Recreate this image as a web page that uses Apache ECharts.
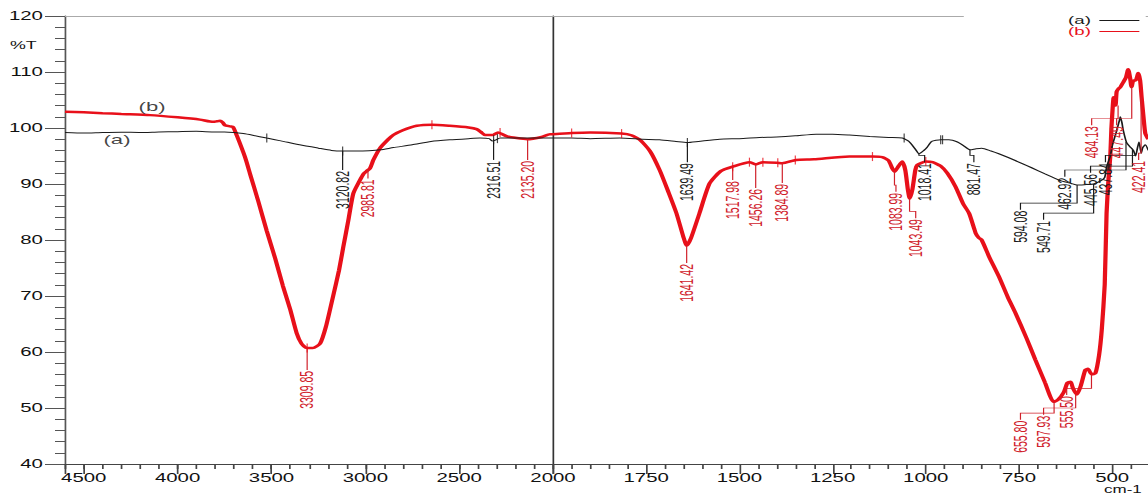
<!DOCTYPE html>
<html>
<head>
<meta charset="utf-8">
<script src="https://cdn.jsdelivr.net/npm/echarts@6/dist/echarts.min.js"></script>
<style>
  html, body { margin: 0; padding: 0; background: #fff; }
  #wrap { width: 1148px; height: 494px; overflow: hidden; position: relative; background: #fff; }
  #chart { position: absolute; left: 0; top: 0; height: 494px; transform-origin: 0 0; }
</style>
</head>
<body>
<div id="wrap"><div id="chart"></div></div>
<script>
// ---------------- DATA ----------------
// x-axis tick labels (cm-1): left panel 4500..2000 step 500, right panel 1750..500 step 250
const leftTicks = [4500, 4000, 3500, 3000, 2500, 2000];
const rightTicks = [1750, 1500, 1250, 1000, 750, 500];

// Spectrum (a): [wavenumber cm-1, %T]
const curveA = [
  [4600, 99.2], [4500, 99.1], [4400, 99.2], [4300, 99.25], [4200, 99.2], [4100, 99.3], [4000, 99.35],
  [3900, 99.4], [3800, 99.3], [3750, 99.3], [3700, 99.2], [3650, 99.0], [3600, 98.7], [3525, 98.2],
  [3450, 97.7], [3350, 97.0], [3250, 96.4], [3180, 96.0], [3120, 95.9], [3050, 95.9], [2980, 95.95],
  [2920, 96.1], [2850, 96.5], [2750, 97.0], [2650, 97.6], [2550, 97.9], [2450, 98.1], [2389, 98.2],
  [2340, 98.1], [2325, 97.7], [2310, 97.8], [2282, 98.2], [2200, 98.2], [2100, 98.2], [2000, 98.2],
  [1950, 98.2], [1900, 98.1], [1821, 98.2], [1760, 98.0], [1714, 97.9], [1670, 97.6], [1640, 97.4],
  [1610, 97.6], [1553, 98.0], [1500, 98.1], [1446, 98.3], [1400, 98.4], [1350, 98.6], [1294, 98.9],
  [1250, 98.9], [1205, 98.75], [1150, 98.5], [1100, 98.3], [1063, 98.2], [1045, 97.6], [1030, 96.4],
  [1018, 95.4], [1005, 96.0], [997, 96.5], [984, 97.6], [960, 97.9], [938, 97.9], [915, 97.5],
  [900, 96.9], [881, 96.1], [865, 96.3], [850, 96.4], [825, 95.9], [804, 95.4], [760, 94.2],
  [716, 92.9], [680, 91.8], [643, 90.7], [610, 90.1], [594, 89.8], [570, 89.9], [550, 90.0],
  [530, 90.6], [520, 91.2], [515, 93.0], [510, 94.0], [505, 95.0], [499, 97.0], [488, 99.5],
  [480, 101.5], [478, 102.0], [474, 101.0], [470, 99.5], [462, 97.5], [457, 97.0], [450, 96.5],
  [443, 96.0], [437, 95.0], [432, 96.5], [428, 97.5], [422, 95.5], [418, 96.5], [411, 97.0], [403, 96.0]
];

// Spectrum (b): [wavenumber cm-1, %T]
const curveB = [
  [4600, 102.9], [4500, 102.8], [4400, 102.65], [4300, 102.5], [4147, 102.3], [4000, 101.9],
  [3881, 101.5], [3811, 101.1], [3790, 101.2], [3774, 101.3], [3760, 101.0], [3748, 100.5],
  [3720, 100.3], [3705, 100.2], [3684, 98.6], [3641, 94.8], [3614, 91.8], [3570, 86.9], [3525, 81.6],
  [3480, 76.7], [3439, 71.8], [3400, 67.6], [3366, 63.4], [3340, 61.5], [3311, 60.7], [3280, 60.7],
  [3241, 61.5], [3210, 64.5], [3172, 69.9], [3140, 74.6], [3117, 78.8], [3090, 83.6], [3064, 88.3],
  [3030, 90.6], [3010, 91.8], [2993, 92.3], [2975, 92.8], [2957, 94.3], [2922, 96.4], [2880, 97.9],
  [2851, 98.75], [2800, 99.6], [2726, 100.4], [2645, 100.6], [2550, 100.4], [2450, 100.1],
  [2407, 99.8], [2385, 99.3], [2362, 98.75], [2320, 98.75], [2293, 99.2], [2245, 98.5], [2193, 98.2],
  [2138, 98.0], [2060, 98.4], [2016, 98.9], [2000, 98.9],
  [1950, 99.1], [1900, 99.2], [1816, 99.0], [1790, 98.7], [1767, 97.9], [1740, 95.9], [1714, 92.5],
  [1690, 88.5], [1669, 84.8], [1650, 80.5], [1641, 79.0], [1630, 80.3], [1607, 84.8], [1580, 90.1],
  [1550, 92.3], [1518, 93.1], [1473, 93.9], [1456, 93.5], [1437, 93.9], [1400, 93.8], [1385, 93.7],
  [1348, 94.3], [1300, 94.4], [1205, 94.9], [1143, 94.9], [1117, 94.8], [1100, 94.2], [1090, 92.8],
  [1084, 92.2], [1075, 93.0], [1063, 94.0], [1055, 92.5], [1048, 89.0], [1043, 87.4], [1036, 89.0],
  [1028, 92.5], [1023, 93.4], [1000, 94.0], [982, 93.9], [960, 93.2], [942, 91.9], [920, 89.5],
  [900, 86.5], [884, 84.8], [870, 82.0], [866, 81.2], [858, 80.4], [850, 80.0], [830, 77.0],
  [804, 73.5], [780, 69.8], [759, 66.9], [730, 62.5], [706, 58.6], [680, 54.5], [657, 51.1],
  [645, 51.5], [630, 52.8], [620, 54.5], [612, 54.7], [605, 53.5], [595, 52.4], [585, 53.8],
  [572, 56.8], [565, 57.0], [555, 56.0], [545, 56.2], [535, 59.5], [528, 63.9], [520, 72.0],
  [515, 84.8], [510, 90.7], [505, 95.0], [502, 100.0], [499, 103.2], [496, 105.5], [491, 104.0],
  [488, 106.5], [483, 107.0], [478, 107.3], [470, 108.2], [463, 109.0], [457, 110.5], [452, 109.0],
  [448, 107.3], [443, 108.5], [437, 108.5], [430, 109.8], [425, 108.5], [421, 105.5], [416, 102.0],
  [411, 99.0], [403, 98.0]
];

// Peak annotations: [peak cm-1, %T at peak, label cm-1, %T at label top]
const peaksA = [
  [3120.82, 95.9, 3120.82, 92.5], [2316.51, 98.0, 2316.51, 94.3], [1639.49, 97.4, 1639.49, 93.9],
  [1018.41, 95.4, 1003, 93.9], [881.47, 96.1, 871, 93.9], [594.08, 89.8, 746, 85.4],
  [549.71, 90.0, 684, 83.6], [462.92, 97.5, 627, 91.3], [445.56, 96.3, 558, 92.0], [437.84, 95.0, 518, 93.9]
];
const peaksB = [
  [3309.85, 60.7, 3309.85, 56.8], [2985.81, 92.6, 2985.81, 91.0], [2135.20, 98.0, 2135.20, 94.3],
  [1641.42, 79.0, 1641.42, 75.9], [1517.98, 93.1, 1517.98, 90.7], [1456.26, 93.5, 1456.26, 89.3],
  [1384.89, 93.7, 1384.89, 90.2], [1083.99, 92.2, 1080, 88.6], [1043.49, 87.4, 1027, 83.9],
  [655.80, 51.1, 746, 47.9], [597.93, 52.4, 684, 48.8], [555.50, 56.0, 622, 52.3],
  [484.13, 104.0, 555, 100.5], [447.49, 107.3, 488, 100.5], [422.41, 105.5, 429, 94.3]
];

// Cursor tick marks on the curves: [cm-1, %T]
const marksA = [[3525, 98.2], [3120.82, 95.9], [2316.51, 97.9], [2296, 98.1], [1639.49, 97.4], [1058, 98.2], [960, 97.9], [955, 97.9]];
const marksB = [[2645, 100.6], [2282, 99.2], [3309.85, 60.7], [1950, 99.1], [1816, 99.0], [1518, 93.1], [1473, 93.9], [1437, 93.9], [1397, 93.8], [1350, 94.3], [1143, 94.9], [1000, 94.0]];

// Curve tags: [text, cm-1, %T]
const curveTags = [['(b)', 4136, 103.8], ['(a)', 4323, 97.9]];

// ---------------- LAYOUT ----------------
const S = 1.7;                               // horizontal stretch of the original figure
const PX_L = 488 / 2600;                     // screen px per cm-1, left panel
const PX_R = 0.37375;                        // screen px per cm-1, right panel
const RIGHT_W = 1750 * PX_R;                 // right panel spans 2000..250 (clipped at the window edge)
const W = (553 + RIGHT_W) / S + 2;
const chartEl = document.getElementById('chart');
chartEl.style.width = W + 'px';
chartEl.style.transform = 'scaleX(' + S + ')';

const FONT = '"Liberation Sans", Arial, sans-serif';
const RED = '#e8101a';
const RED_TXT = '#d0202a';
const BLACK = '#1a1a1a';

const chart = echarts.init(chartEl, null, { renderer: 'svg', width: W, height: 494 });

const left = p => p[0] >= 2000;
const right = p => p[0] <= 2000;

function peakRenderer(color) {
  return function (params, api) {
    const pw = api.value(0), tc = api.value(1), lw = api.value(2), tt = api.value(3);
    const p0 = api.coord([pw, tc]);
    const pt = api.coord([lw, tt]);
    let pts;
    if (lw === pw) {
      pts = [p0, pt];
    } else {
      const j1 = api.coord([pw, tt + 1.2]);
      const j2 = api.coord([lw, tt + 1.2]);
      pts = [p0, j1, j2, pt];
    }
    return {
      type: 'group',
      children: [
        { type: 'polyline', shape: { points: pts }, style: { stroke: color, lineWidth: 0.7, fill: null } },
        {
          type: 'text', x: pt[0], y: pt[1] + 1, rotation: Math.PI / 2,
          style: { text: pw.toFixed(2), fill: color, fontSize: 10.5, fontFamily: FONT, align: 'right', verticalAlign: 'middle' }
        }
      ]
    };
  };
}

function peakSeries(arr, filt, grid, color) {
  return {
    type: 'custom', xAxisIndex: grid === 0 ? 0 : 3, yAxisIndex: grid,
    data: arr.filter(filt), encode: { x: [0, 2], y: [1, 3] },
    renderItem: peakRenderer(color), clip: false, silent: true, z: 6
  };
}

function markSeries(arr, filt, grid, color) {
  return {
    type: 'scatter', xAxisIndex: grid === 0 ? 0 : 3, yAxisIndex: grid,
    data: arr.filter(filt), symbol: 'rect', symbolSize: [0.7, 9],
    itemStyle: { color: color }, silent: true, z: 7
  };
}

const lineCommon = { type: 'line', symbol: 'none', showSymbol: false, smooth: 0.2, silent: true, animation: false };

const option = {
  animation: false,
  backgroundColor: '#fff',
  textStyle: { fontFamily: FONT },
  grid: [
    { left: 65 / S, top: 16, width: 2600 * PX_L / S, height: 448 },
    { left: 553 / S, top: 16, width: RIGHT_W / S, height: 448 }
  ],
  legend: {
    orient: 'vertical', left: 1068 / S, top: 15, align: 'right', padding: 0,
    icon: 'rect', itemWidth: 40 / S, itemHeight: 1, itemGap: 0,
    textStyle: { fontSize: 11, lineHeight: 10.5, fontFamily: FONT },
    data: [
      { name: '(a)', textStyle: { color: BLACK } },
      { name: '(b)', textStyle: { color: RED } }
    ]
  },
  xAxis: [
    {
      gridIndex: 0, type: 'value', min: 2000, max: 4600, interval: 500, inverse: true, position: 'bottom',
      axisLine: { lineStyle: { color: '#444', width: 1 } },
      axisTick: { length: 10, lineStyle: { color: '#444' } },
      axisLabel: { fontSize: 12, color: '#111', fontFamily: FONT, margin: 8,
        formatter: v => (leftTicks.indexOf(v) >= 0 ? String(v) : '') },
      splitLine: { show: false }
    },
    {
      gridIndex: 0, type: 'value', min: 2000, max: 4600, interval: 100, inverse: true, position: 'bottom',
      axisLine: { show: false }, axisTick: { length: 5, lineStyle: { color: '#444' } },
      axisLabel: { show: false }, splitLine: { show: false }
    },
    {
      gridIndex: 0, type: 'value', min: 2000, max: 4600, inverse: true, position: 'top',
      axisLine: { lineStyle: { color: '#aaa', width: 1 } }, axisTick: { show: false },
      axisLabel: { show: false }, splitLine: { show: false }
    },
    {
      gridIndex: 1, type: 'value', min: 250, max: 2000, interval: 250, inverse: true, position: 'bottom',
      axisLine: { lineStyle: { color: '#444', width: 1 } },
      axisTick: { length: 10, lineStyle: { color: '#444' } },
      minorTick: { show: true, splitNumber: 5, length: 5, lineStyle: { color: '#444' } },
      axisLabel: { fontSize: 12, color: '#111', fontFamily: FONT, margin: 8,
        formatter: v => (rightTicks.indexOf(v) >= 0 ? String(v) : '') },
      splitLine: { show: false }, minorSplitLine: { show: false }
    }
  ],
  yAxis: [
    {
      gridIndex: 0, type: 'value', min: 40, max: 120, interval: 10,
      axisLine: { show: true, lineStyle: { color: '#555', width: 1 } },
      axisTick: { show: true, length: 20 / S, lineStyle: { color: '#555' } },
      minorTick: { show: true, splitNumber: 5, length: 10 / S, lineStyle: { color: '#555' } },
      axisLabel: { fontSize: 12, color: '#111', fontFamily: FONT, margin: 13 },
      splitLine: { show: false }, minorSplitLine: { show: false }
    },
    {
      gridIndex: 1, type: 'value', min: 40, max: 120, interval: 10,
      axisLine: { show: true, lineStyle: { color: '#333', width: 1 } },
      axisTick: { show: false }, axisLabel: { show: false }, splitLine: { show: false }
    }
  ],
  graphic: [
    { type: 'text', left: 10 / S, top: 39.5, style: { text: '%T', fontSize: 10.5, fill: '#111', fontFamily: FONT } },
    { type: 'text', left: 1104 / S, top: 484.5, style: { text: 'cm-1', fontSize: 10, fill: '#111', fontFamily: FONT } }
  ],
  series: [
    Object.assign({}, lineCommon, { name: '(b)', xAxisIndex: 0, yAxisIndex: 0, data: curveB.filter(left),
      lineStyle: { color: RED, width: 2.5 }, itemStyle: { color: RED }, z: 2 }),
    Object.assign({}, lineCommon, { name: '(b)', xAxisIndex: 3, yAxisIndex: 1, data: curveB.filter(right),
      lineStyle: { color: RED, width: 2.5 }, itemStyle: { color: RED }, z: 2 }),
    Object.assign({}, lineCommon, { name: '(a)', xAxisIndex: 0, yAxisIndex: 0, data: curveA.filter(left),
      lineStyle: { color: BLACK, width: 1 }, itemStyle: { color: BLACK }, z: 3 }),
    Object.assign({}, lineCommon, { name: '(a)', xAxisIndex: 3, yAxisIndex: 1, data: curveA.filter(right),
      lineStyle: { color: BLACK, width: 1 }, itemStyle: { color: BLACK }, z: 3,
      markLine: {
        silent: true, symbol: 'none', label: { show: false },
        lineStyle: { color: '#aaa', width: 1, type: 'solid' },
        data: [
          [{ coord: [2000, 120] }, { coord: [898, 120] }],
          [{ coord: [410, 120] }, { coord: [250, 120] }]
        ]
      }
    }),
    peakSeries(peaksA, left, 0, BLACK),
    peakSeries(peaksA, p => p[0] < 2000, 1, BLACK),
    peakSeries(peaksB, left, 0, RED_TXT),
    peakSeries(peaksB, p => p[0] < 2000, 1, RED_TXT),
    markSeries(marksA, left, 0, BLACK),
    markSeries(marksA, p => p[0] < 2000, 1, BLACK),
    markSeries(marksB, left, 0, RED),
    markSeries(marksB, p => p[0] < 2000, 1, RED),
    {
      type: 'scatter', xAxisIndex: 0, yAxisIndex: 0, symbolSize: 0, silent: true, z: 8,
      data: curveTags.map(t => ({ name: t[0], value: [t[1], t[2]] })),
      label: { show: true, position: 'inside', formatter: p => p.name, fontSize: 13, color: '#111', fontFamily: FONT }
    }
  ]
};

chart.setOption(option);
</script>
</body>
</html>
